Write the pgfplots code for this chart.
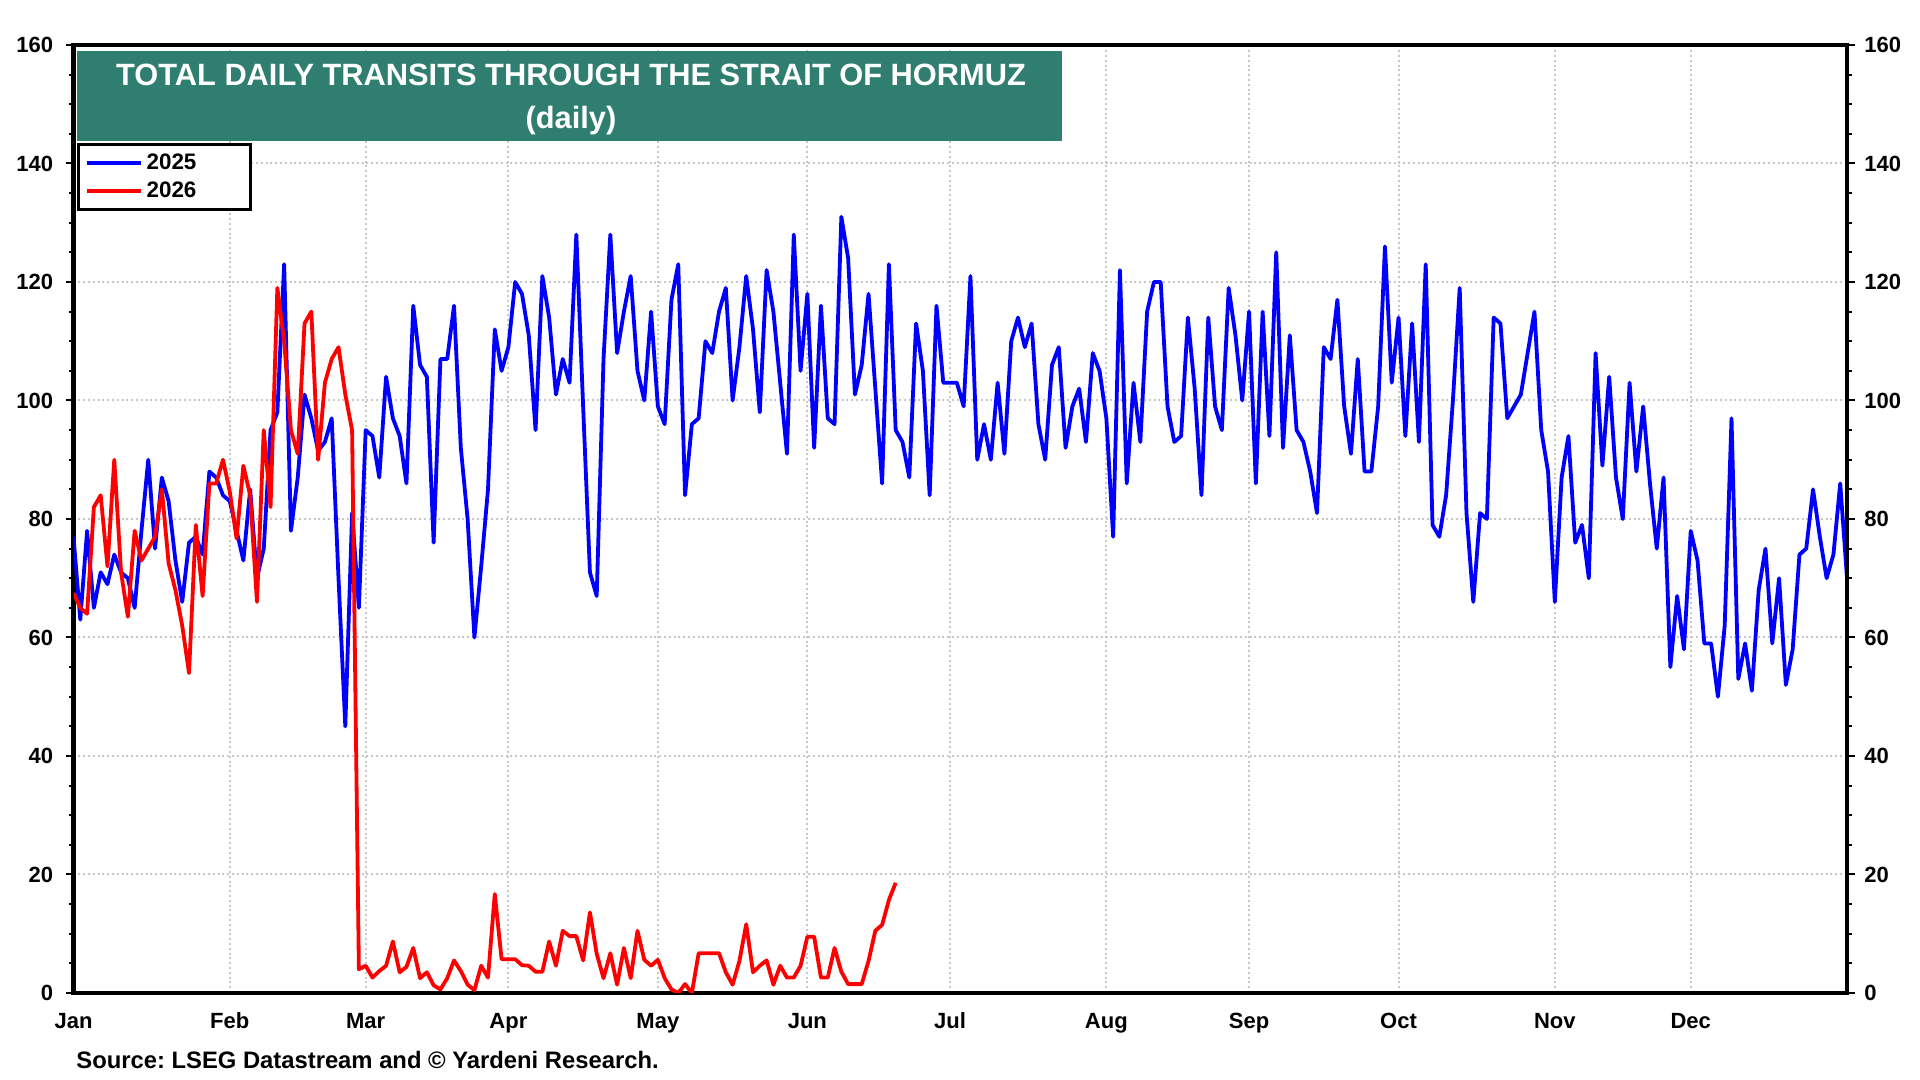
\documentclass[border=0pt]{standalone}
\usepackage{fontspec}
\setmainfont{Liberation Sans}
\usepackage{pgfplots}
\usepackage{pgfplotstable}
\pgfplotsset{compat=1.18}
\definecolor{titleteal}{RGB}{47,126,111}
\definecolor{gridgray}{RGB}{200,200,200}
\frenchspacing

% x = business-day index within the year (0 = first weekday of January)
\pgfplotstableread{
d v
0 77
1 63
2 78
3 65
4 71
5 69
6 74
7 71
8 70
9 65
10 78
11 90
12 75
13 87
14 83
15 73
16 66
17 76
18 77
19 74
20 88
21 87
22 84
23 83
24 78
25 73
26 85
27 70
28 75
29 95
30 98
31 123
32 78
33 87
34 101
35 97
36 91.5
37 93
38 97
39 70
40 45
41 81
42 65
43 95
44 94
45 87
46 104
47 97
48 94
49 86
50 116
51 106
52 104
53 76
54 107
55 107
56 116
57 92
58 80
59 60
60 72
61 85
62 112
63 105
64 109
65 120
66 118
67 111
68 95
69 121
70 114
71 101
72 107
73 103
74 128
75 99
76 71
77 67
78 107
79 128
80 108
81 115
82 121
83 105
84 100
85 115
86 99
87 96
88 117
89 123
90 84
91 96
92 97
93 110
94 108
95 115
96 119
97 100
98 109
99 121
100 112
101 98
102 122
103 115
104 103
105 91
106 128
107 105
108 118
109 92
110 116
111 97
112 96
113 131
114 124
115 101
116 106
117 118
118 102
119 86
120 123
121 95
122 93
123 87
124 113
125 105
126 84
127 116
128 103
129 103
130 103
131 99
132 121
133 90
134 96
135 90
136 103
137 91
138 110
139 114
140 109
141 113
142 96
143 90
144 106
145 109
146 92
147 99
148 102
149 93
150 108
151 105
152 97
153 77
154 122
155 86
156 103
157 93
158 115
159 120
160 120
161 99
162 93
163 94
164 114
165 102
166 84
167 114
168 99
169 95
170 119
171 111
172 100
173 115
174 86
175 115
176 94
177 125
178 92
179 111
180 95
181 93
182 88
183 81
184 109
185 107
186 117
187 99
188 91
189 107
190 88
191 88
192 99
193 126
194 103
195 114
196 94
197 113
198 93
199 123
200 79
201 77
202 84
203 100
204 119
205 81
206 66
207 81
208 80
209 114
210 113
211 97
212 99
213 101
214 108
215 115
216 95
217 88
218 66
219 87
220 94
221 76
222 79
223 70
224 108
225 89
226 104
227 87
228 80
229 103
230 88
231 99
232 86
233 75
234 87
235 55
236 67
237 58
238 78
239 73
240 59
241 59
242 50
243 62
244 97
245 53
246 59
247 51
248 68
249 75
250 59
251 70
252 52
253 58
254 74
255 75
256 85
257 77
258 70
259 74
260 86
261 70
}\transitsA

\pgfplotstableread{
d v
0 67.5
1 65
2 64
3 82
4 84
5 72
6 90
7 71
8 63.5
9 78
10 73
11 75
12 77
13 85
14 72.5
15 68
16 62
17 54
18 79
19 67
20 86
21 86
22 90
23 84.6
24 76.7
25 89
26 84
27 66
28 95
29 82
30 119
31 110
32 95
33 91
34 113
35 115
36 90
37 103
38 107
39 109
40 101
41 95
42 4
43 4.6
44 2.6
45 3.7
46 4.6
47 8.7
48 3.5
49 4.4
50 7.6
51 2.5
52 3.5
53 1.3
54 0.6
55 2.5
56 5.5
57 3.7
58 1.4
59 0.5
60 4.6
61 2.6
62 16.7
63 5.7
64 5.7
65 5.7
66 4.7
67 4.6
68 3.6
69 3.6
70 8.7
71 4.6
72 10.5
73 9.6
74 9.6
75 5.5
76 13.6
77 6.6
78 2.5
79 6.7
80 1.4
81 7.6
82 2.5
83 10.5
84 5.6
85 4.6
86 5.6
87 2.5
88 0.6
89 0
90 1.5
91 0
92 6.7
93 6.7
94 6.7
95 6.7
96 3.5
97 1.4
98 5.4
99 11.6
100 3.5
101 4.6
102 5.5
103 1.4
104 4.6
105 2.6
106 2.6
107 4.6
108 9.5
109 9.5
110 2.6
111 2.6
112 7.6
113 3.6
114 1.5
115 1.5
116 1.5
117 5.4
118 10.5
119 11.5
120 15.7
121 18.6
}\transitsB

\begin{document}
\begin{tikzpicture}
\useasboundingbox (0pt,0pt) rectangle (960pt,540pt);

\pgfplotsset{
  hormuz/.style={
    at={(36.75pt,43.5pt)}, anchor=south west,
    scale only axis, width=886.75pt, height=474pt,
    xmin=0, xmax=261, ymin=0, ymax=160,
    ytick={0,20,...,160}, minor y tick num=3,
    tick align=outside, major tick length=4pt, minor tick length=2.5pt,
    y tick style={black, line width=1pt},
    tick label style={font=\bfseries\fontsize{11}{11}\selectfont},
    /pgf/number format/assume math mode=true,
  }
}

\begin{axis}[hormuz,
  axis line style={line width=2.4pt},
  ytick pos=left,
  yticklabel style={anchor=east, inner sep=0pt, xshift=-6pt},
  xtick={0,23,43,64,86,108,129,152,173,195,218,238},
  xticklabels={Jan,Feb,Mar,Apr,May,Jun,Jul,Aug,Sep,Oct,Nov,Dec},
  x tick style={draw=none},
  xticklabel style={anchor=base, inner sep=0pt, yshift=-13.6pt},
  xmajorgrids, ymajorgrids,
  major grid style={gridgray, line width=1pt, dash pattern=on 1pt off 1.4pt},
  legend style={at={(axis description cs:0.0022,0.8965)}, anchor=north west,
    draw=black, line width=1.4pt, inner xsep=3pt, inner ysep=2.5pt,
    font=\bfseries\fontsize{11.2}{11.2}\selectfont, row sep=0.8pt,
    cells={anchor=west}},
  legend image code/.code={\draw[#1, line width=1.9pt] (0pt,0pt) -- (27pt,0pt);},
]
\addplot[blue, line width=1.9pt, line join=round] table[x=d, y=v] {\transitsA};
\addlegendentry{\makebox[47pt][l]{2025}}
\addplot[red, line width=1.9pt, line join=round] table[x=d, y=v] {\transitsB};
\addlegendentry{\makebox[47pt][l]{2026}}
\end{axis}

\begin{axis}[hormuz,
  axis x line=none, axis y line*=right,
  y axis line style={line width=2.4pt},
  yticklabel style={anchor=west, inner sep=0pt, xshift=4.5pt},
]
\end{axis}

\fill[titleteal] (38.6pt,469.6pt) rectangle (530.8pt,514.3pt);
\node[white, anchor=base, inner sep=0pt, font=\bfseries\fontsize{15.4}{15.4}\selectfont]
  at (285.5pt,497pt) {TOTAL DAILY TRANSITS THROUGH THE STRAIT OF HORMUZ};
\node[white, anchor=base, inner sep=0pt, font=\bfseries\fontsize{15.4}{15.4}\selectfont]
  at (285.5pt,475.6pt) {(daily)};

\node[anchor=base west, inner sep=0pt, font=\bfseries\fontsize{11.9}{11.9}\selectfont]
  at (38pt,5.5pt) {Source: LSEG Datastream and © Yardeni Research.};
\end{tikzpicture}
\end{document}
